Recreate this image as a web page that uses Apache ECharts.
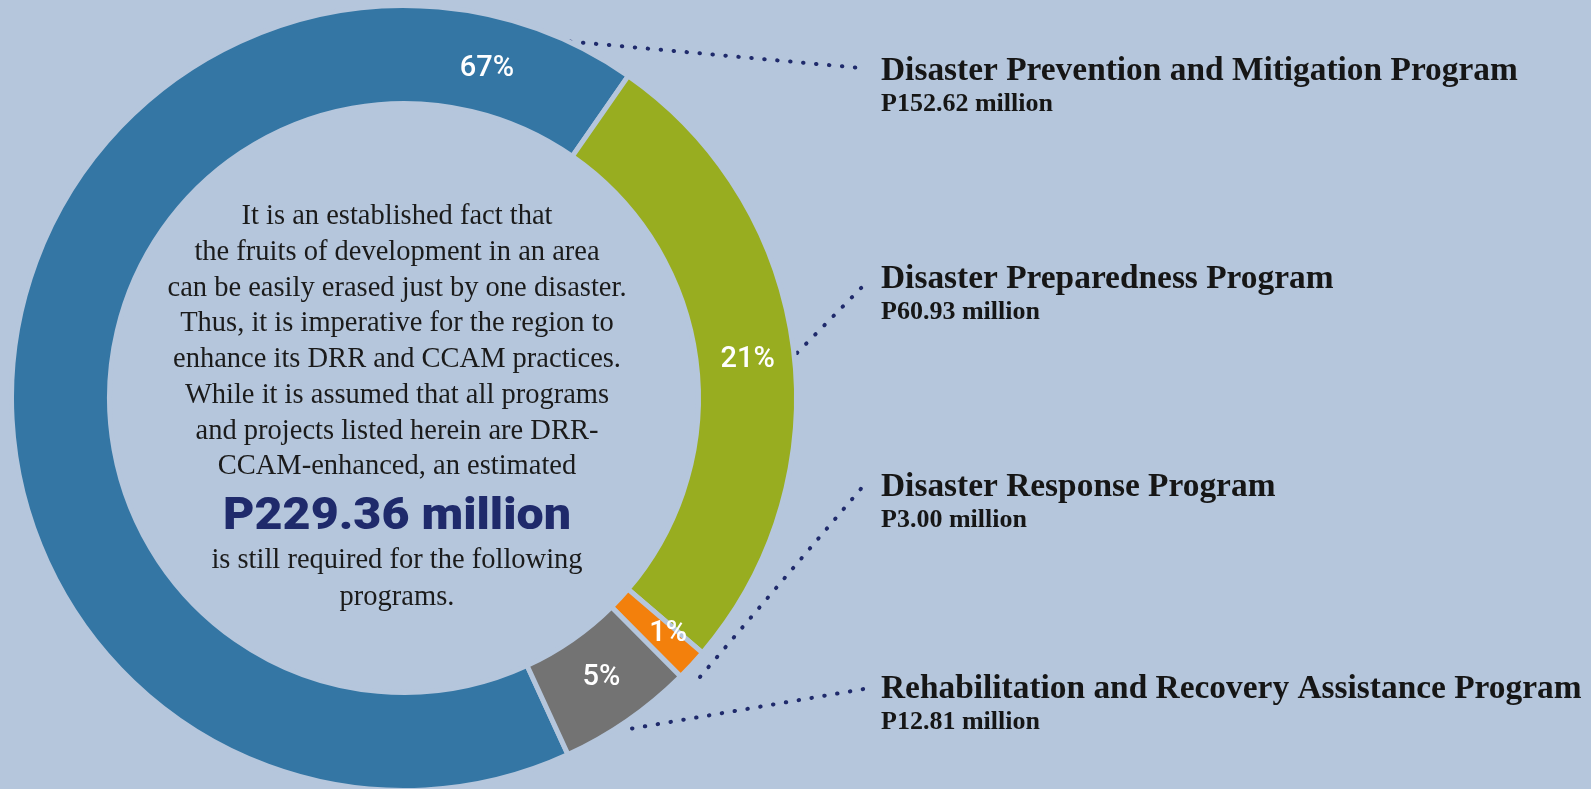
<!DOCTYPE html>
<html>
<head>
<meta charset="utf-8">
<title>DRR-CCAM programs</title>
<script src="https://cdn.jsdelivr.net/npm/echarts@6/dist/echarts.min.js"></script>
<style>
  html, body { margin: 0; padding: 0; background: #b5c6dc; }
  #chart { width: 1591px; height: 789px; }
</style>
</head>
<body>
<div id="chart"></div>
<script>
// programs, amounts (million pesos) and the share labels printed on the ring
const programs = [
  'Disaster Prevention and Mitigation Program',
  'Disaster Preparedness Program',
  'Disaster Response Program',
  'Rehabilitation and Recovery Assistance Program'
]
const amounts = [152.62, 60.93, 3.00, 12.81]
const shareLabels = ['67%', '21%', '1%', '5%']
const colors = ['#3476a4', '#98ad20', '#f3800c', '#737373']

const introLines = [
  'It is an established fact that',
  'the fruits of development in an area',
  'can be easily erased just by one disaster.',
  'Thus, it is imperative for the region to',
  'enhance its DRR and CCAM practices.',
  'While it is assumed that all programs',
  'and projects listed herein are DRR-',
  'CCAM-enhanced, an estimated'
]
const outroLines = ['is still required for the following', 'programs.']

const total = amounts.reduce((a, b) => a + b, 0)
const money = v => 'P' + v.toFixed(2) + ' million'

const bg = '#b5c6dc'
const navy = '#1f2a6b'

// where the legend texts sit on the right, and the dotted leaders
const legendX = 881
const legendY = [71, 279, 487, 689]
const leaders = [
  [570, 41.5, 861, 68],
  [797, 353, 866, 283],
  [700, 677, 865, 484],
  [632, 728.5, 864, 689]
]

const chart = echarts.init(document.getElementById('chart'))

const graphics = []

// text in the hole
graphics.push({
  type: 'text',
  x: 397, y: 199,
  style: {
    text: introLines.join('\n'),
    font: '28.5px "Liberation Serif", serif',
    fill: '#1b1b1b',
    align: 'center',
    verticalAlign: 'top',
    lineHeight: 35.7
  }
})
graphics.push({
  type: 'text',
  x: 397, y: 518,
  scaleX: 1.1,
  style: {
    text: money(total),
    font: '900 44px Roboto, sans-serif',
    fill: navy,
    align: 'center',
    verticalAlign: 'middle'
  }
})
graphics.push({
  type: 'text',
  x: 397, y: 542,
  style: {
    text: outroLines.join('\n'),
    font: '28.5px "Liberation Serif", serif',
    fill: '#1b1b1b',
    align: 'center',
    verticalAlign: 'top',
    lineHeight: 37
  }
})

programs.forEach((name, i) => {
  const l = leaders[i]
  graphics.push({
    type: 'line',
    shape: { x1: l[0], y1: l[1], x2: l[2], y2: l[3] },
    style: { stroke: navy, lineWidth: 4, lineDash: [0.5, 12.5], lineCap: 'round' },
    silent: true
  })
  graphics.push({
    type: 'text',
    x: legendX, y: legendY[i],
    style: {
      text: name,
      font: 'bold 33.4px "Liberation Serif", serif',
      fill: '#161616',
      verticalAlign: 'middle'
    }
  })
  graphics.push({
    type: 'text',
    x: legendX, y: legendY[i] + 33,
    style: {
      text: money(amounts[i]),
      font: 'bold 26px "Liberation Serif", serif',
      fill: '#161616',
      verticalAlign: 'middle'
    }
  })
})

// small nudges so the ring labels sit where the original put them
const labelShift = [null, { dy: 6 }, { dx: 10 }, { dy: -5 }]

chart.setOption({
  backgroundColor: bg,
  animation: false,
  series: [{
    type: 'pie',
    center: [404, 398],
    radius: [294.5, 392.5],
    startAngle: 294.7,
    clockwise: true,
    silent: true,
    avoidLabelOverlap: false,
    itemStyle: { borderColor: bg, borderWidth: 5 },
    label: {
      show: true,
      position: 'inside',
      rotate: 0,
      color: '#fff',
      fontFamily: 'Roboto',
      fontWeight: 500,
      fontSize: 29,
      formatter: p => shareLabels[p.dataIndex]
    },
    labelLine: { show: false },
    // the big slice carries its label near the top of the ring
    labelLayout: p => p.dataIndex === 0
      ? { x: 487, y: 69, align: 'center', verticalAlign: 'middle' }
      : labelShift[p.dataIndex],
    data: programs.map((name, i) => ({
      name: name,
      value: amounts[i],
      itemStyle: { color: colors[i] }
    }))
  }],
  graphic: graphics
})
</script>
</body>
</html>
